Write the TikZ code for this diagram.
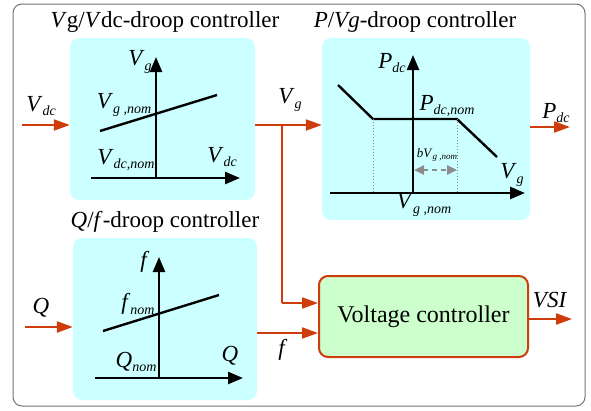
\documentclass[tikz,border=0pt]{standalone}
\usepackage{fontspec}
\setmainfont{Liberation Serif}
\usetikzlibrary{arrows.meta}
\definecolor{sig}{RGB}{205,60,10}
\definecolor{panel}{RGB}{204,255,255}
\definecolor{vcfill}{RGB}{204,255,204}
\newcommand\lab[2]{\textit{#1}\raisebox{-0.45ex}{\fontsize{14}{14}\selectfont\textit{#2}}}
\tikzset{
  frame/.style={draw=black!55, line width=1pt, rounded corners=9pt},
  panelbox/.style={fill=panel, rounded corners=9pt, inner sep=0pt},
  vcbox/.style={fill=vcfill, draw=sig, line width=2pt, rounded corners=9pt, inner sep=0pt},
  sigline/.style={draw=sig, line width=2.2pt},
  sigarrow/.style={sigline, -{Triangle[length=16pt,width=11pt]}},
  axis/.style={line width=2.5pt, -{Triangle[length=15pt,width=12pt]}},
  curve/.style={line width=2.4pt},
  guide/.style={draw=black!45, line width=1pt, dotted},
  span/.style={draw=black!45, line width=2.4pt, dash pattern=on 5pt off 4pt, {Triangle[length=10pt,width=9pt]}-{Triangle[length=10pt,width=9pt]}},
  title/.style={font=\fontsize{23}{25}\selectfont},
  lbl/.style={font=\fontsize{23}{24}\selectfont, inner sep=0pt},
  sublbl/.style={font=\fontsize{13}{14}\selectfont, inner sep=0pt}
}
\begin{document}
\begin{tikzpicture}[x=1pt,y=-1pt]
\useasboundingbox (0,0) rectangle (591,410);
\draw[frame] (13,4) rectangle (585,406);

% panels
\node[panelbox, minimum width=185pt, minimum height=162pt] (b1) at (162.5,119) {};
\node[panelbox, minimum width=208pt, minimum height=182pt] (b2) at (426,129) {};
\node[panelbox, minimum width=184pt, minimum height=162pt] (b3) at (165,319) {};
\node[vcbox, minimum width=209pt, minimum height=81pt, font=\fontsize{24}{26}\selectfont] (vc) at (423.5,316.5) {Voltage controller};

% titles
\node[title] (t1) at (165,22) {\textit{V}g/\textit{V}dc-droop controller};
\node[title] (t2) at (415,22) {\textit{P}/\textit{Vg}-droop controller};
\node[title] (t3) at (165,222) {\textit{Q}/\textit{f}-droop controller};

% panel 1 graph
\coordinate (o1) at (156,178);
\draw[axis] (o1) -- (156,57);
\draw[axis] (91,178) -- (240,178);
\draw[curve] (100,131) -- (217,95);
\node[lbl] (l1a) at (140,62) {\lab{V}{g}};
\node[lbl] (l1b) at (124,105) {\lab{V}{g ,nom}};
\node[lbl] (l1c) at (126,160) {\lab{V}{dc,nom}};
\node[lbl] (l1d) at (222,157) {\lab{V}{dc}};

% panel 2 graph
\draw[axis] (413,193) -- (413,55);
\draw[axis] (330,193) -- (525,193);
\draw[curve] (338,85) -- (373,119) -- (457,119) -- (497,157);
\draw[guide] (373,119) -- (373,193);
\draw[guide] (457,119) -- (457,193);
\draw[span] (414,170) -- (457,170);
\node[lbl] (l2a) at (392,63) {\lab{P}{dc}};
\node[lbl] (l2b) at (447,106) {\lab{P}{dc,nom}};
\node[sublbl] (l2c) at (437,155) {\textit{bV}\raisebox{-0.4ex}{\fontsize{9}{9}\selectfont\textit{g ,nom}}};
\node[lbl] (l2d) at (512,175) {\lab{V}{g}};
\node[lbl] (l2e) at (424,205) {\lab{V}{g ,nom}};

% panel 3 graph
\draw[axis] (159,378) -- (159,257);
\draw[axis] (95,378) -- (243,378);
\draw[curve] (103,331) -- (219,295);
\node[lbl] (l3a) at (145,262) {\textit{f}};
\node[lbl] (l3b) at (138,304) {\lab{f}{nom}};
\node[lbl] (l3c) at (136,362) {\lab{Q}{nom}};
\node[lbl] (l3d) at (230,356) {\textit{Q}};

% signals
\coordinate (vdcin) at (22,125);
\draw[sigarrow] (vdcin) -- (vdcin -| b1.west);
\node[lbl] (s1) at (41,106) {\lab{V}{dc}};

\coordinate (vgout) at (255,125);
\coordinate (branch) at (282,125);
\draw[sigarrow] (vgout) -- (vgout -| b2.west);
\node[lbl] (s2) at (290,100) {\lab{V}{g}};
\coordinate (vgdown) at (282,303);
\draw[sigline] (branch) -- (vgdown);
\draw[sigarrow] (vgdown) -- (vgdown -| vc.west);

\coordinate (pdcout) at (530,127);
\draw[sigarrow] (pdcout) -- (570,127);
\node[lbl] (s3) at (556,113) {\lab{P}{dc}};

\coordinate (qin) at (25,327);
\draw[sigarrow] (qin) -- (qin -| b3.west);
\node[lbl] (s4) at (41,308) {\textit{Q}};

\coordinate (fout) at (257,333);
\draw[sigarrow] (fout) -- (fout -| vc.west);
\node[lbl] (s5) at (283,350) {\textit{f}};

\coordinate (vsiout) at (528,319);
\draw[sigarrow] (vsiout) -- (572,319);
\node[lbl] (s6) at (550,300) {\textit{VSI}};
\end{tikzpicture}
\end{document}
